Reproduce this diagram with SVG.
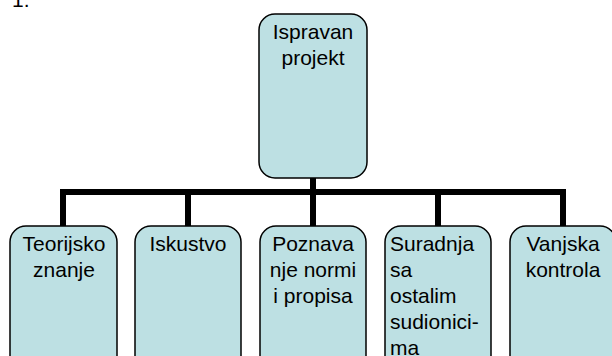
<svg xmlns="http://www.w3.org/2000/svg" width="612" height="356" viewBox="0 0 612 356">
<style>
.box{fill:#bde0e3;stroke:#000;stroke-width:1.5}
.t{font-family:"Liberation Sans",Arial,sans-serif;font-size:21px;fill:#000}
.c{text-anchor:middle}
.conn{stroke:#000;stroke-width:6;fill:none;stroke-linecap:square}
</style>
<rect width="612" height="356" fill="#fff"/>
<text class="t" x="12" y="7">1.</text>
<g id="connectors">
<path class="conn" d="M313 178V192M63 192H563M63 192V226M188 192V226M313 192V226M438 192V226M563 192V226"/>
</g>
<g id="n0">
<rect class="box" x="259" y="14" width="108" height="164" rx="16"/>
<text class="t c" x="313" y="39">Ispravan</text>
<text class="t c" x="313" y="65">projekt</text>
</g>
<g id="n1">
<rect class="box" x="10" y="226" width="107" height="150" rx="16"/>
<text class="t c" x="64" y="251">Teorijsko</text>
<text class="t c" x="64" y="277">znanje</text>
</g>
<g id="n2">
<rect class="box" x="135" y="226" width="106" height="150" rx="16"/>
<text class="t c" x="188" y="251">Iskustvo</text>
</g>
<g id="n3">
<rect class="box" x="260" y="226" width="106" height="150" rx="16"/>
<text class="t c" x="313" y="251">Poznava</text>
<text class="t c" x="313" y="277">nje normi</text>
<text class="t c" x="313" y="303">i propisa</text>
</g>
<g id="n4">
<rect class="box" x="385" y="226" width="106" height="150" rx="16"/>
<text class="t" x="390" y="251">Suradnja</text>
<text class="t" x="390" y="277">sa</text>
<text class="t" x="390" y="303">ostalim</text>
<text class="t" x="390" y="329">sudionici-</text>
<text class="t" x="390" y="355">ma</text>
</g>
<g id="n5">
<rect class="box" x="510" y="226" width="106" height="150" rx="16"/>
<text class="t c" x="563" y="251">Vanjska</text>
<text class="t c" x="563" y="277">kontrola</text>
</g>
</svg>
